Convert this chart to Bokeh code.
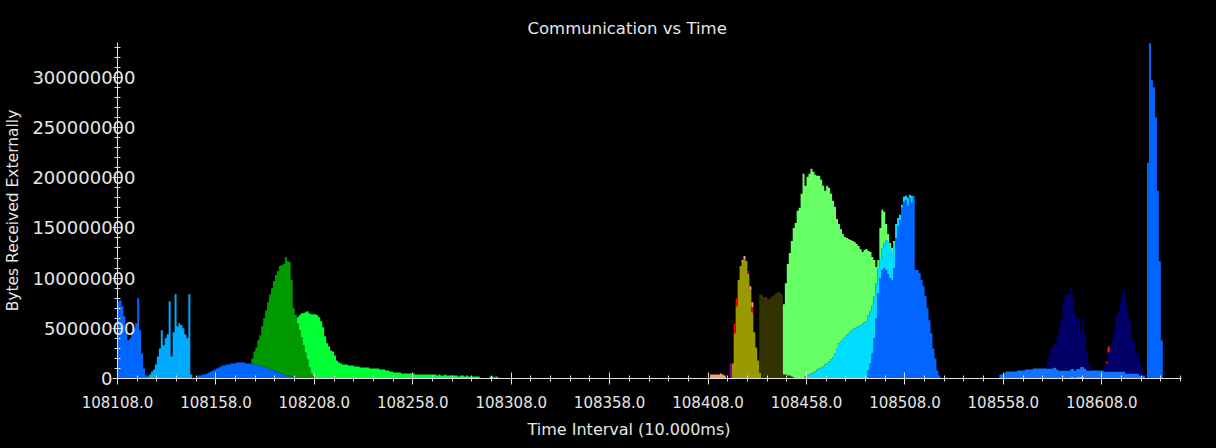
import numpy as np
from bokeh.plotting import figure
from bokeh.models import Range1d, FixedTicker, Title, LinearAxis
from bokeh.embed import file_html
from bokeh.resources import INLINE

# ---------------- data ----------------
# one value per 1-unit time interval, values in millions of bytes
x_start = 108108
x_end = 108648.5
y_end = 334.7

x_tick_values = [108108, 108158, 108208, 108258, 108308, 108358, 108408, 108458, 108508, 108558, 108608]
x_tick_labels = ["108108.0", "108158.0", "108208.0", "108258.0", "108308.0", "108358.0",
                 "108408.0", "108458.0", "108508.0", "108558.0", "108608.0"]
y_tick_values = [0, 50, 100, 150, 200, 250, 300]
y_tick_labels = ["0", "50000000", "100000000", "150000000", "200000000", "250000000", "300000000"]

pink_low_start = 108592
pink_low = [1.5, 1.5, 0, 1.5, 1.5, 1.5, 1.5]

blue_a_start = 108108
blue_a = [77, 78, 72, 62, 46, 38, 40, 46, 50, 55, 80, 48, 25, 10, 3]

light_blue_start = 108123
light_blue = [2, 4, 7, 9, 14, 22, 30, 48, 33, 40, 44, 77, 22, 46, 84, 52, 55, 53, 50, 44, 40, 84, 4]

blue_hump_start = 108147
blue_hump = [1, 2, 3, 3, 4, 4, 5, 6, 7, 8, 9, 10, 11, 12, 13, 13, 14, 14, 15, 15, 15, 16, 16, 16,
             16, 16, 15, 15, 15, 15, 14, 14, 13, 13, 12, 12, 11, 10, 9, 9, 8, 7, 6, 6, 5, 4, 3, 3,
             2, 2, 1]

blue_band_start = 108556
blue_band = [4, 4, 5, 7, 7, 7, 7, 7, 7, 8, 8, 8, 8, 9, 9, 9, 9, 10, 10, 10, 10, 10, 10, 10, 10,
             10, 10, 11, 11, 9, 8, 8, 8, 8, 8, 8, 8, 8, 8, 8, 8, 10, 10, 10, 8, 8, 8, 8, 8, 8, 8,
             8, 8, 7, 7, 7, 7, 7, 7, 7, 7, 7, 7, 7, 5, 5, 5, 5, 5, 5, 5, 3, 3, 3]

blue_c_start = 108489
blue_c = [8, 15, 25, 40, 60, 85, 100, 108, 110, 108, 104, 100, 98, 110, 140, 152, 158, 170, 176,
          178, 172, 180, 175, 182, 108, 108, 105, 98, 92, 82, 70, 58, 45, 30, 20, 8, 3]

blue_spike_start = 108631
blue_spike = [215, 334, 297, 290, 260, 187, 117, 38]

dark_green_start = 108176
dark_green = [5, 13, 17, 25, 30, 40, 48, 57, 66, 75, 81, 89, 96, 101, 106, 108, 110, 118, 114, 114,
              96, 69, 62, 55, 48, 41, 33, 26, 19, 11, 5, 2]

olive_start = 108420
olive = [15, 45, 72, 98, 112, 116, 119, 117, 104, 88, 66, 46, 31, 18, 6]

dark_olive_start = 108434
dark_olive = [78, 83, 81, 79, 79, 80, 82, 83, 85, 86, 86, 84, 4, 4, 3, 3, 2, 1]

cyan_start = 108457
cyan = [2, 3, 4, 5, 6, 7, 9, 10, 11, 12, 14, 15, 17, 19, 21, 25, 30, 35, 37, 39, 41, 43, 45, 47,
        49, 50, 51, 52, 53, 54, 56, 57, 55, 52, 48, 42, 35, 25, 20, 22, 25, 30, 32, 30, 28, 25,
        14, 8, 5, 3, 5, 4, 8, 3, 7]

bright_green_start = 108198
bright_green = [1, 6, 15, 24, 32, 40, 48, 54, 59, 62, 64, 63, 61, 57, 51, 42, 35, 32, 28, 27, 23,
                18, 16, 15, 14, 14, 14, 13, 13, 13, 12, 12, 12, 11, 11, 11, 11, 11, 10, 10, 10,
                10, 10, 9, 9, 9, 8, 8, 7, 7, 6, 6, 6, 6, 5, 5, 5, 5, 5, 5, 5, 4, 4, 4, 4, 4, 4,
                4, 4, 4, 4, 4, 3, 4, 3, 3, 4, 3, 3, 3, 3, 3, 3, 2, 3, 3, 2, 3, 2, 2, 2, 2, 2, 2,
                0, 0, 0, 0, 0, 2, 2, 1, 2, 1]

light_green_start = 108446
light_green = [70, 91, 111, 122, 135, 149, 155, 167, 170, 184, 204, 190, 198, 200, 204, 200, 196,
               193, 192, 187, 180, 173, 177, 173, 165, 156, 146, 129, 119, 112, 105, 100, 97, 94,
               91, 88, 86, 83, 80, 76, 72, 72, 72, 64, 59, 48, 36, 16, 8, 30, 38, 31, 16, 8, 5,
               4, 2]

navy_start = 108580
navy = [7, 14, 21, 22, 25, 33, 43, 52, 67, 75, 76, 77, 82, 71, 58, 52, 50, 35, 48, 35, 20, 7, 2,
        0, 0, 0, 0, 0, 0,
        6, 8, 19, 23, 32, 41, 55, 59, 69, 79, 81, 69, 57, 51, 35, 31, 22, 17, 13, 7, 1]

red_start = 108421
red = [10, 8, 0, 0, 0, 0, 0, 0, 0, 5]
red_b_start = 108610
red_b = [2, 6]

magenta_start = 108419
magenta = [15, 0, 0, 0, 0, 0, 0, 0, 0, 3, 0, 0, 0, 0, 0, 0, 0, 0, 2]

pink_start = 108425
pink = [2, 3, 0, 0, 4, 5]

orange_start = 108409
orange = [4, 4, 4, 4, 4, 5, 4, 3]

# stacking order (bottom -> top) with colours
series = [
    (pink_low_start, pink_low, "#ff66cc"),
    (blue_a_start, blue_a, "#0066ff"),
    (light_blue_start, light_blue, "#00aaff"),
    (blue_hump_start, blue_hump, "#0066ff"),
    (blue_band_start, blue_band, "#1173ff"),
    (blue_c_start, blue_c, "#0066ff"),
    (blue_spike_start, blue_spike, "#0066ff"),
    (dark_green_start, dark_green, "#009900"),
    (olive_start, olive, "#999900"),
    (dark_olive_start, dark_olive, "#333300"),
    (cyan_start, cyan, "#00ddff"),
    (bright_green_start, bright_green, "#00ff33"),
    (light_green_start, light_green, "#66ff66"),
    (navy_start, navy, "#000066"),
    (red_start, red, "#ff0000"),
    (red_b_start, red_b, "#ff2200"),
    (magenta_start, magenta, "#990099"),
    (pink_start, pink, "#ff9999"),
    (orange_start, orange, "#ff9966"),
]

# ---------------- figure ----------------
TEXT = "#e6e6e6"
AXIS = "#e0e0e0"
FONT = "DejaVu Sans"

p = figure(width=1216, height=448, output_backend="svg", toolbar_location=None,
           x_range=Range1d(x_start, x_end), y_range=Range1d(0, y_end * 1e6),
           background_fill_color="black", border_fill_color=None,
           outline_line_color=None,
           min_border_left=117, min_border_right=35, min_border_top=42, min_border_bottom=70)
p.styles = {"background-color": "#000000"}
p.grid.visible = False

n = int(np.ceil(x_end - x_start)) + 1
base = np.zeros(n)
for start, vals, color in series:
    vals = np.asarray(vals, dtype=float) * 1e6
    idx = np.arange(len(vals)) + (start - x_start)
    bottom = base[idx].copy()
    top = bottom + vals
    base[idx] = top
    # step area: each value holds over [t, t+1)
    xs = np.append(start + np.arange(len(vals)), start + len(vals)).astype(float)
    y1 = np.append(bottom, bottom[-1])
    y2 = np.append(top, top[-1])
    p.varea_step(x=xs, y1=y1, y2=y2, step_mode="after", fill_color=color)

# x axis
xa = p.xaxis[0]
xa.ticker = FixedTicker(ticks=x_tick_values,
                        minor_ticks=list(range(x_start, int(x_end) + 1, 10)))
xa.major_label_overrides = {v: s for v, s in zip(x_tick_values, x_tick_labels)}
xa.major_label_text_font_size = "15px"
xa.major_label_standoff = 11

# y axis (line, ticks and the "0" label)
ya = p.yaxis[0]
y_ticks = [v * 1000000 for v in y_tick_values]
ya.ticker = FixedTicker(ticks=y_ticks, minor_ticks=[v * 1000000 for v in range(0, 331, 10)])
ya.major_label_overrides = {v: (s if v == 0 else "") for v, s in zip(y_ticks, y_tick_labels)}
ya.major_label_text_font_size = "18px"
ya.major_label_standoff = 0

for ax in (xa, ya):
    ax.axis_line_color = AXIS
    ax.major_tick_line_color = AXIS
    ax.minor_tick_line_color = AXIS
    ax.major_tick_in = 6
    ax.major_tick_out = 6
    ax.minor_tick_in = 3
    ax.minor_tick_out = 3
    ax.major_label_text_color = TEXT
    ax.major_label_text_font = FONT
ya.major_tick_out = 5
ya.major_tick_in = 5

# second left axis: only the large labels (drawn overlapping the axis, as in the original)
yb = LinearAxis(ticker=FixedTicker(ticks=y_ticks[1:], minor_ticks=[]),
                major_label_overrides={v: s for v, s in zip(y_ticks[1:], y_tick_labels[1:])},
                axis_line_color=None, major_tick_line_color=None, minor_tick_line_color=None,
                major_tick_in=0, major_tick_out=0, minor_tick_in=0, minor_tick_out=0,
                major_label_standoff=-37, major_label_text_font=FONT,
                major_label_text_font_size="18px", major_label_text_color=TEXT,
                axis_label="Bytes Received Externally", axis_label_text_font=FONT,
                axis_label_text_font_size="15.5px", axis_label_text_font_style="normal",
                axis_label_text_color=TEXT, axis_label_standoff=7)
p.add_layout(yb, "left")

has_standoff = "standoff" in Title.properties()

title = Title(text="Communication vs Time", align="left", offset=410,
              text_font=FONT, text_font_size="16.5px", text_font_style="normal",
              text_color=TEXT)
p.add_layout(title, "above")

xlab = Title(text="Time Interval (10.000ms)", align="left", offset=410,
             text_font=FONT, text_font_size="16px", text_font_style="normal",
             text_color=TEXT)
if has_standoff:
    xlab.standoff = 14
p.add_layout(xlab, "below")

open("out.html", "w").write(file_html(p, INLINE))
